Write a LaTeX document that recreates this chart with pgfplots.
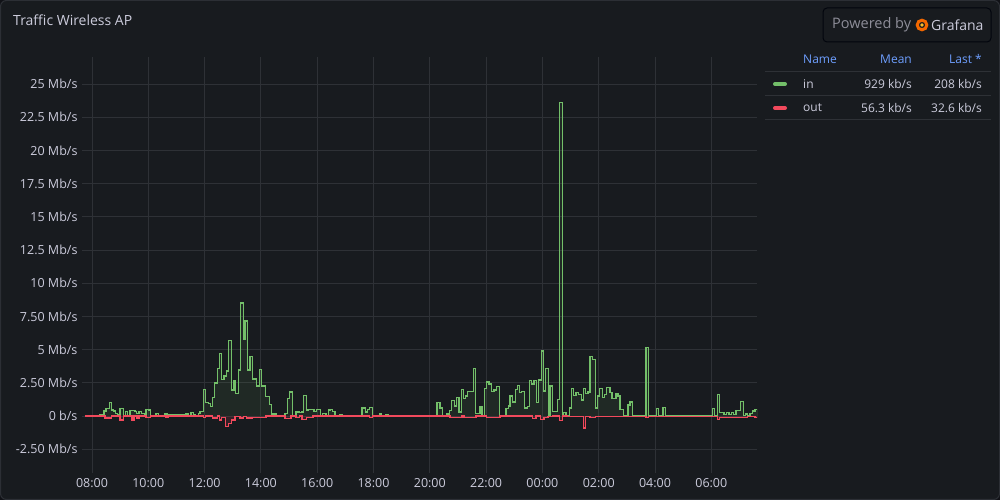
\documentclass[border=0pt]{standalone}
\usepackage{fontspec}
\setmainfont{Open Sans}
\usepackage{pgfplots}
\usepackage{pgfplotstable}
\pgfplotsset{compat=1.18}

\definecolor{canvas}{HTML}{111217}
\definecolor{panel}{HTML}{181B1F}
\definecolor{panelborder}{HTML}{2C2F35}
\definecolor{gridc}{HTML}{2E3136}
\definecolor{txt}{HTML}{CCCCDC}
\definecolor{txtdim}{HTML}{8E8E99}
\definecolor{linkblue}{HTML}{6E9FFF}
\definecolor{ingreen}{HTML}{73BF69}
\definecolor{outred}{HTML}{F2495C}
\definecolor{gforange}{HTML}{F46800}
\definecolor{gfyellow}{HTML}{FBC02D}

% in traffic, Mb/s, time in hours (24+ = next day)
\pgfplotstableread{
t v
7.751 0
8.259 0.1
8.426 0.37
8.497 0.58
8.615 1.0
8.700 0.45
8.757 0.37
8.842 0.2
8.899 0.08
8.995 0.55
9.112 0.05
9.183 0.35
9.254 0.05
9.350 0.4
9.528 0.33
9.588 0.2
9.670 0.33
9.766 0.2
9.858 0.12
9.918 0.5
10.025 0.45
10.085 0.05
10.274 0.18
10.369 0.05
10.593 0.15
10.689 0.08
11.339 0.15
11.435 0.05
11.517 0.25
11.599 0.1
11.659 0
11.776 0.2
11.837 0.35
11.954 2.0
12.039 1.0
12.131 0.93
12.217 0.7
12.288 1.4
12.345 2.5
12.451 3.6
12.522 4.7
12.607 2.75
12.689 3.0
12.785 3.4
12.856 5.7
12.963 1.95
13.044 2.66
13.105 1.7
13.197 3.46
13.282 8.5
13.375 5.8
13.435 7.15
13.531 3.46
13.613 4.5
13.694 2.76
13.755 2.8
13.851 2.26
13.943 3.5
14.028 2.26
14.171 1.45
14.298 0.85
14.384 0.15
14.561 0.05
14.856 0.2
14.938 1.3
15.009 1.8
15.123 0
15.247 0.3
15.364 0.25
15.460 0.3
15.506 1.55
15.627 0.45
15.698 0.5
15.886 0.35
15.982 0.5
16.124 0.05
16.181 0.2
16.313 0.05
16.394 0.45
16.480 0.5
16.551 0.35
16.632 0
16.785 0.1
16.881 0
17.591 0.6
17.709 0.3
17.780 0.5
17.851 0.65
17.972 0
18.206 0.15
18.291 0
18.444 0.08
18.540 0
20.185 0.05
20.256 1.0
20.362 0.6
20.444 0.05
20.600 0.15
20.693 0.4
20.764 1.15
20.870 0.75
20.956 1.4
21.037 0.3
21.119 2.0
21.190 1.3
21.261 1.5
21.346 1.85
21.546 3.56
21.631 0.2
21.783 0.7
21.854 0
21.936 2.06
22.022 2.56
22.103 2.41
22.185 1.83
22.281 1.96
22.363 2.21
22.469 0.05
22.707 0.55
22.789 0.75
22.849 1.5
22.931 1.05
23.037 2.0
23.108 2.31
23.180 1.76
23.265 1.83
23.371 0.6
23.464 0.7
23.535 2.66
23.620 2.4
23.702 2.66
23.783 1.0
23.869 2.71
23.961 4.9
24.046 1.88
24.103 3.56
24.210 0
24.270 2.26
24.366 0.35
24.544 1.25
24.600 23.6
24.707 0.05
24.742 0.25
24.838 0.05
24.956 0.6
25.027 2.06
25.098 1.56
25.194 1.76
25.289 1.63
25.382 1.2
25.453 2.06
25.538 1.71
25.620 1.81
25.691 4.47
25.787 4.27
25.879 0.6
25.950 1.51
26.021 2.06
26.142 1.38
26.213 1.63
26.284 2.13
26.401 1.76
26.472 1.3
26.615 1.71
26.686 1.51
26.757 0.5
26.874 0.05
27.041 0.83
27.112 1.05
27.194 0.05
27.680 5.15
27.776 0.05
28.046 0.55
28.131 0.05
28.284 0.63
28.366 0.05
30.036 0.55
30.121 0.05
30.213 1.6
30.285 0.25
30.451 0.1
30.547 0.25
30.629 0.1
30.711 0.25
30.796 0.12
30.877 0.43
31.030 1.1
31.137 0.05
31.222 0.15
31.293 0.05
31.375 0.2
31.456 0.38
31.552 0.5
31.640 0
}\intab

% out traffic, plotted negative
\pgfplotstableread{
t v
7.751 0
8.462 -0.15
8.700 0
8.995 -0.3
9.112 0
9.421 -0.3
9.492 0
9.599 -0.15
9.670 0
9.918 -0.1
10.085 0
10.629 -0.1
10.700 0
11.954 -0.1
12.039 0
12.288 -0.15
12.451 0
12.522 -0.3
12.607 -0.1
12.750 -0.8
12.842 -0.55
12.963 -0.3
13.080 -0.05
13.258 -0.15
13.375 -0.05
13.496 -0.15
13.694 -0.1
14.181 0
14.856 -0.2
15.069 0
15.247 -0.1
15.364 0
15.460 -0.25
15.627 -0.12
15.851 0
17.851 -0.12
17.972 0
20.718 -0.1
21.144 0
21.215 -0.1
21.641 0
22.022 -0.1
22.494 0
23.656 -0.2
23.773 0
23.940 -0.25
24.057 -0.12
24.199 -0.05
24.377 0
24.600 -0.35
24.707 0
24.874 -0.03
25.453 -0.9
25.524 -0.03
25.691 -0.12
25.879 -0.03
27.680 -0.12
27.776 -0.03
30.213 -0.25
30.285 -0.12
31.293 -0.05
31.552 -0.1
31.640 0
}\outtab

\begin{document}
\begin{tikzpicture}
\useasboundingbox (0,0) rectangle (1000pt,500pt);
\fill[canvas] (0,0) rectangle (1000pt,500pt);
\filldraw[fill=panel, draw=panelborder, line width=1pt, rounded corners=6pt] (0.5pt,0.5pt) rectangle (999.5pt,499.5pt);

\begin{scope}[shift={(0,500pt)}, x=1pt, y=-1pt]
  \node[anchor=west, text=txt, font=\fontsize{14}{16}\selectfont, inner sep=0pt] at (13,20) {Traffic Wireless AP};

  % Powered by Grafana badge
  \filldraw[fill=panel, draw=panelborder!120, line width=1pt, rounded corners=4pt] (823,8) rectangle (991,42);
  \node[anchor=west, text=txtdim, font=\fontsize{14.5}{16}\selectfont, inner sep=0pt] at (832,25) {Powered by};
  \draw[gforange, line width=3pt] (922,25) circle (4.8);
  \fill[gfyellow] (922,25) circle (1.8);
  \node[anchor=west, text=txt, font=\fontsize{14}{16}\selectfont, inner sep=0pt] at (931,25.5) {Grafana};

  % legend table
  \begin{scope}[font=\fontsize{12}{14}\selectfont]
    \node[anchor=west, text=linkblue, inner sep=0pt] at (803,59) {Name};
    \node[anchor=east, text=linkblue, inner sep=0pt] at (912,59) {Mean};
    \node[anchor=east, text=linkblue, inner sep=0pt] at (982,59) {Last *};
    \draw[gridc, line width=1pt] (765,72) -- (991,72);
    \draw[gridc, line width=1pt] (765,96) -- (991,96);
    \draw[gridc, line width=1pt] (765,120) -- (991,120);
    \draw[ingreen, line width=4pt, line cap=round] (775,84) -- (785,84);
    \node[anchor=west, text=txt, inner sep=0pt] at (803,84) {in};
    \node[anchor=east, text=txt, inner sep=0pt] at (912,84) {929 kb/s};
    \node[anchor=east, text=txt, inner sep=0pt] at (982,84) {208 kb/s};
    \draw[outred, line width=4pt, line cap=round] (775,108) -- (785,108);
    \node[anchor=west, text=txt, inner sep=0pt] at (803,108) {out};
    \node[anchor=east, text=txt, inner sep=0pt] at (912,108) {56.3 kb/s};
    \node[anchor=east, text=txt, inner sep=0pt] at (982,108) {32.6 kb/s};
  \end{scope}
\end{scope}

\begin{axis}[
  at={(82pt,27pt)}, anchor=south west,
  scale only axis, width=675pt, height=416pt,
  xmin=7.645, xmax=31.623,
  ymin=-4.29, ymax=27.03,
  axis line style={draw=none},
  major tick length=0pt,
  xmajorgrids, ymajorgrids,
  grid style={color=gridc, line width=0.9pt},
  xtick={8,10,12,14,16,18,20,22,24,26,28,30},
  xticklabels={08:00,10:00,12:00,14:00,16:00,18:00,20:00,22:00,00:00,02:00,04:00,06:00},
  ytick={-2.5,0,2.5,5,7.5,10,12.5,15,17.5,20,22.5,25},
  yticklabels={-2.50 Mb/s,0 b/s,2.50 Mb/s,5 Mb/s,7.50 Mb/s,10 Mb/s,12.5 Mb/s,15 Mb/s,17.5 Mb/s,20 Mb/s,22.5 Mb/s,25 Mb/s},
  tick label style={text=txt, font=\fontsize{12.5}{14}\selectfont},
  xticklabel style={yshift=-2pt},
  yticklabel style={xshift=-1pt},
]
\addplot[const plot, draw=none, fill=ingreen, fill opacity=0.09] table[x=t, y=v] {\intab};
\addplot[const plot, draw=none, fill=outred, fill opacity=0.12] table[x=t, y=v] {\outtab};
\addplot[const plot, draw=ingreen, line width=1.4pt, line join=miter] table[x=t, y=v] {\intab};
\addplot[const plot, draw=outred, line width=1.4pt, line join=miter] table[x=t, y=v] {\outtab};
\end{axis}
\end{tikzpicture}
\end{document}
